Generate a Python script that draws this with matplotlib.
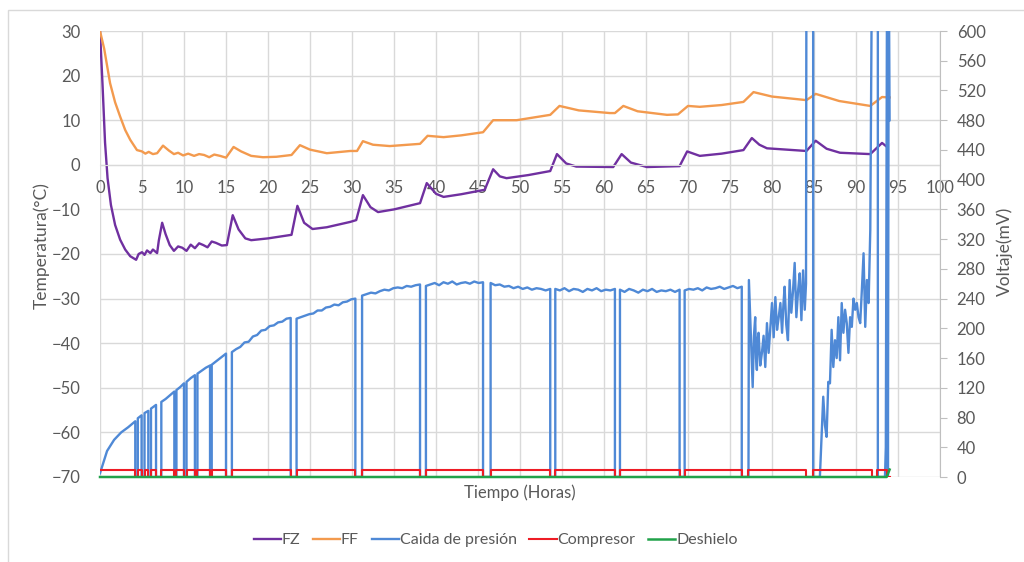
import numpy as np
import matplotlib.pyplot as plt
from matplotlib.patches import Rectangle

plt.rcParams['font.family'] = ['Lato', 'DejaVu Sans']

# FZ (°C)
fz_horas = [0, 0.3, 0.6, 0.9, 1.3, 1.8, 2.4, 3.0, 3.6, 4.3, 4.6, 5.0, 5.3, 5.6, 6.0, 6.3,
            6.8, 7.0, 7.4, 7.8, 8.3, 8.8, 9.3, 9.8, 10.3, 10.8, 11.3, 11.8, 12.3, 12.8,
            13.3, 13.8, 14.5, 15.1, 15.8, 16.5, 17.3, 18.0, 20, 22.8, 23.5, 24.3, 25.3,
            27, 29.8, 30.5, 31.3, 32.2, 33.1, 35, 38.1, 38.9, 40, 40.9, 43, 45.8, 46.8,
            47.6, 48.4, 51, 53.6, 54.4, 55.5, 56.7, 61.1, 62.1, 63.2, 65.1, 69.0, 69.9,
            71.4, 74, 76.6, 77.6, 78.5, 79.4, 84.1, 85.2, 86.5, 88.1, 91.7, 93.1, 93.7]
fz_temp = [30, 18, 5, -3, -9, -13.5, -16.8, -19, -20.5, -21.3, -20, -19.6, -20.2, -19.2,
           -19.8, -19, -19.8, -17, -13, -15.5, -18, -19.3, -18.3, -18.6, -19.3, -17.9,
           -18.7, -17.6, -18, -18.5, -17.2, -17.5, -18.1, -18, -11.3, -14.5, -16.5, -16.9,
           -16.5, -15.7, -9.2, -13, -14.4, -14, -12.8, -12.4, -6.8, -9.5, -10.6, -10, -8.6,
           -4.1, -6.5, -7.2, -6.6, -5.6, -1.0, -2.6, -3.0, -2.3, -1.4, 2.4, 0.3, -0.4, -0.5,
           2.4, 0.5, -0.5, -0.3, 3.0, 2.0, 2.5, 3.3, 6.0, 4.5, 3.7, 3.1, 5.4, 3.6, 2.7, 2.4,
           4.9, 4.0]

# FF (°C)
ff_horas = [0, 0.5, 1.2, 1.8, 2.4, 3.0, 3.6, 4.4, 5.0, 5.4, 5.8, 6.3, 6.8, 7.5, 8.2, 8.8,
            9.3, 9.9, 10.5, 11.2, 11.8, 12.4, 13.0, 13.6, 14.3, 15.0, 15.9, 16.8, 18, 19.4,
            21, 22.8, 23.8, 25, 27, 29.8, 30.6, 31.3, 32.5, 34.5, 38.1, 39.0, 40.9, 43,
            45.6, 46.8, 49.6, 53.6, 54.7, 57, 60.7, 61.3, 62.3, 64, 67.5, 68.8, 70.0, 71.4,
            74, 76.6, 77.8, 80, 84.1, 85.2, 88, 91.7, 93.1, 94.0]
ff_temp = [30, 26, 18.3, 14, 10.8, 7.8, 5.6, 3.3, 3.0, 2.5, 2.9, 2.4, 2.6, 4.3, 3.2, 2.4,
           2.7, 2.1, 2.5, 2.0, 2.4, 2.2, 1.7, 2.3, 2.0, 1.6, 4.0, 3.0, 2.0, 1.7, 1.8, 2.2,
           4.4, 3.4, 2.6, 3.1, 3.1, 5.3, 4.5, 4.2, 4.7, 6.5, 6.2, 6.6, 7.3, 10.0, 10.0, 11.2,
           13.2, 12.2, 11.6, 11.6, 13.2, 12.0, 11.2, 11.3, 13.2, 13.0, 13.4, 14.1, 16.3,
           15.3, 14.5, 15.9, 14.3, 13.2, 15.2, 15.1]

# Caida de presion (mV): tramos con compresor encendido (inicio, fin, valores)
caida_tramos = [
    (0.0, 4.2, [5, 35, 50, 60, 67, 75]),
    (4.5, 4.95, [79, 83]),
    (5.3, 5.75, [86, 89]),
    (6.07, 6.67, [92, 97]),
    (7.3, 8.85, [101, 105, 110, 115]),
    (9.1, 10.0, [117, 121, 126]),
    (10.3, 11.3, [128, 133, 137]),
    (11.6, 13.1, [139, 143, 147, 150]),
    (13.3, 15.0, [151, 156, 161, 166]),
    (15.7, 22.7, [168, 172, 175, 181, 182, 189, 191, 197, 198, 203, 204, 208, 209, 213, 214]),
    (23.4, 30.4, [213, 215, 217, 219, 220, 224, 224, 228, 229, 232, 231, 235, 236, 239, 240]),
    (31.2, 38.1, [244, 246, 248, 247, 250, 252, 251, 254, 255, 254, 257, 256, 258, 259]),
    (38.8, 45.6, [257, 259, 261, 258, 262, 260, 263, 259, 261, 262, 260, 263, 261, 262]),
    (46.5, 53.6, [261, 258, 259, 256, 257, 254, 256, 253, 255, 252, 254, 253, 251, 253]),
    (54.2, 61.3, [253, 251, 254, 250, 253, 252, 249, 253, 251, 254, 250, 252, 251, 253]),
    (61.9, 69.0, [252, 249, 253, 251, 248, 252, 250, 253, 249, 251, 250, 252, 249, 252]),
    (69.6, 76.4, [251, 253, 252, 254, 251, 255, 253, 254, 256, 253, 255, 257, 254, 256]),
]
caida_final_horas = [77.2, 77.25, 77.7, 77.85, 78.0, 78.1, 78.2, 78.3, 78.4, 78.6, 78.8, 79.0,
                     79.2, 79.4, 79.6, 79.8, 80.0, 80.2, 80.4, 80.6, 80.8, 81.0, 81.2, 81.35,
                     81.5, 81.7, 81.9, 82.1, 82.3, 82.5, 82.7, 82.9, 83.1, 83.3, 83.5, 83.7,
                     83.9, 84.05, 84.1, 84.9, 84.9, 85.7, 86.1, 86.3, 86.5, 86.7, 86.9, 87.1,
                     87.3, 87.5, 87.7, 87.9, 88.1, 88.3, 88.5, 88.7, 88.9, 89.1, 89.3, 89.5,
                     89.7, 89.9, 90.1, 90.3, 90.5, 90.7, 90.9, 91.1, 91.3, 91.5, 91.7, 91.9,
                     92.6, 92.6, 93.45, 93.55, 93.7, 93.8, 93.9, 94.0]
caida_final_mv = [0, 265, 121, 190, 215, 160, 144, 185, 194, 150, 167, 190, 148, 207, 167,
                  200, 234, 188, 242, 198, 215, 234, 194, 230, 256, 205, 184, 265, 221, 250,
                  288, 215, 250, 274, 211, 278, 225, 260, 700, 700, 0, 0, 108, 70, 54, 128,
                  126, 198, 148, 184, 160, 215, 157, 234, 194, 225, 207, 167, 215, 202, 240,
                  225, 234, 215, 207, 252, 301, 202, 265, 234, 332, 700, 700, 0, 0, 40, 700,
                  0, 700, 480]

# Compresor (mV): intervalos apagado
compresor_apagado = [(4.2, 4.5), (4.95, 5.3), (5.75, 6.07), (6.67, 7.3), (8.85, 9.1),
                     (10.0, 10.3), (11.3, 11.6), (13.1, 13.3), (15.0, 15.7), (22.7, 23.4),
                     (30.4, 31.2), (38.1, 38.8), (45.6, 46.5), (53.6, 54.2), (61.3, 61.9),
                     (69.0, 69.6), (76.4, 77.2), (84.1, 84.85), (91.9, 92.5)]
compresor_nivel = 10
compresor_fin = 93.7

# Deshielo (mV)
deshielo_horas = [0, 93.65, 94.0]
deshielo_mv = [0, 0, 10]

t_caida, v_caida = [], []
for ini, fin, vals in caida_tramos:
    if ini > 0:
        t_caida.append(ini)
        v_caida.append(0)
    t_caida += list(np.linspace(ini, fin, len(vals)))
    v_caida += vals
    t_caida.append(fin)
    v_caida.append(0)
t_caida += caida_final_horas
v_caida += caida_final_mv

t_comp, v_comp = [0], [compresor_nivel]
for a, b in compresor_apagado:
    t_comp += [a, a, b, b]
    v_comp += [compresor_nivel, 0, 0, compresor_nivel]
t_comp += [compresor_fin, compresor_fin, 94.0]
v_comp += [compresor_nivel, 0, 0]

gris = '#595959'
c_fz = '#7030A0'
c_ff = '#F39A4E'
c_caida = '#4F89D6'
c_comp = '#EE1C25'
c_desh = '#21A24A'

fig = plt.figure(figsize=(10.24, 5.62), dpi=100)
ax = fig.add_axes([100 / 1024, 1 - 477 / 562, 840 / 1024, 446 / 562])
ax2 = ax.twinx()

ax.plot(fz_horas, fz_temp, color=c_fz, lw=1.7, label='FZ')
ax.plot(ff_horas, ff_temp, color=c_ff, lw=1.7, label='FF')
ax2.plot(t_caida, v_caida, color=c_caida, lw=1.7, label='Caida de presión')
ax2.plot(t_comp, v_comp, color=c_comp, lw=1.5, label='Compresor')
ax2.plot(deshielo_horas, deshielo_mv, color=c_desh, lw=1.8, label='Deshielo', clip_on=False)

ax.set_xlim(0, 100)
ax.set_ylim(-70, 30)
ax2.set_ylim(0, 600)
ax.set_xticks(np.arange(0, 101, 5))
ax.set_yticks(np.arange(-70, 31, 10))
ax2.set_yticks(np.arange(0, 601, 40))
ax.grid(True, color='#D9D9D9', lw=1)
ax.set_axisbelow(True)

for s in ['top', 'left', 'right']:
    ax.spines[s].set_visible(False)
ax.spines['bottom'].set_position(('data', 0))
ax.spines['bottom'].set_color('#D9D9D9')
for s in ['top', 'left', 'bottom']:
    ax2.spines[s].set_visible(False)
ax2.spines['right'].set_color('#BFBFBF')

ax.tick_params(axis='x', length=0, pad=11, labelsize=12, labelcolor=gris)
ax.tick_params(axis='y', length=0, pad=14, labelsize=12, labelcolor=gris)
ax2.tick_params(axis='y', length=5, color='#BFBFBF', pad=7, labelsize=12, labelcolor=gris)

ax.set_ylabel('Temperatura(°C)', fontsize=12.5, color=gris)
ax.yaxis.set_label_coords(-0.060, 0.52)
ax2.set_ylabel('Voltaje(mV)', fontsize=12.5, color=gris)
ax2.yaxis.set_label_coords(1.067, 0.505)
ax.text(0.5, -0.036, 'Tiempo (Horas)', transform=ax.transAxes, ha='center', va='center',
        fontsize=12, color=gris)

h1, l1 = ax.get_legend_handles_labels()
h2, l2 = ax2.get_legend_handles_labels()
fig.legend(h1 + h2, l1 + l2, loc='center', bbox_to_anchor=(0.484, 0.039), ncol=5,
           frameon=False, fontsize=11.5, handlelength=1.7, handletextpad=0.05,
           columnspacing=0.8, labelcolor=gris)

fig.patches.append(Rectangle((8 / 1024, -0.05), 1.2, 1 - 10 / 562 + 0.05,
                             transform=fig.transFigure, fill=False, ec='#D9D9D9', lw=1))

fig.savefig('out.png', dpi=100)
